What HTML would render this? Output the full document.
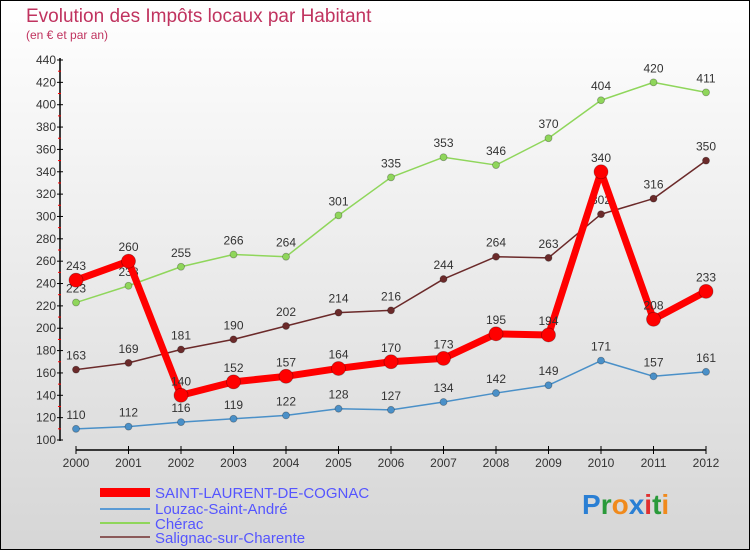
<!DOCTYPE html>
<html><head><meta charset="utf-8"><style>
body{margin:0}
#c{width:750px;height:550px;position:relative;overflow:hidden}
</style></head><body>
<div id="c">
<svg id="s" width="750" height="550" xmlns="http://www.w3.org/2000/svg" font-family="Liberation Sans, sans-serif">
<defs><linearGradient id="bg" x1="0" y1="0" x2="0" y2="1"><stop offset="0" stop-color="#ffffff"/><stop offset="1" stop-color="#d6d6d6"/></linearGradient></defs>
<rect x="0.5" y="0.5" width="749" height="549" fill="url(#bg)" stroke="#000"/>
<text x="26" y="22" font-size="19" fill="#c0335f">Evolution des Impôts locaux par Habitant</text>
<text x="26" y="39" font-size="12" fill="#c0335f">(en € et par an)</text>
<g id="axes"></g><g id="series"></g>
<g>
<rect x="100" y="488" width="50" height="9" fill="#f00"/>
<text x="155" y="498" font-size="15" fill="#5555ff">SAINT-LAURENT-DE-COGNAC</text>
<line x1="100" y1="509" x2="150" y2="509" stroke="#5b9bd5" stroke-width="2"/>
<text x="155" y="514" font-size="15" fill="#5555ff">Louzac-Saint-André</text>
<line x1="100" y1="523" x2="150" y2="523" stroke="#8fd65b" stroke-width="2"/>
<text x="155" y="529" font-size="15" fill="#5555ff">Chérac</text>
<line x1="100" y1="537" x2="150" y2="537" stroke="#8b5a5a" stroke-width="2"/>
<text x="155" y="543" font-size="15" fill="#5555ff">Salignac-sur-Charente</text>
</g>
<text x="582" y="514" font-size="28" font-weight="bold"><tspan fill="#2a7fd4">P</tspan><tspan fill="#2a9a3a">r</tspan><tspan fill="#f08a1c">o</tspan><tspan fill="#2a7fd4">x</tspan><tspan fill="#e03030">i</tspan><tspan fill="#2a9a3a">t</tspan><tspan fill="#f08a1c">i</tspan></text>
</svg></div>
<script>
const years=[2000,2001,2002,2003,2004,2005,2006,2007,2008,2009,2010,2011,2012];
const yTicks=[100,120,140,160,180,200,220,240,260,280,300,320,340,360,380,400,420,440];
const saintLaurent=[243,260,140,152,157,164,170,173,195,194,340,208,233];
const louzac=[110,112,116,119,122,128,127,134,142,149,171,157,161];
const cherac=[223,238,255,266,264,301,335,353,346,370,404,420,411];
const salignac=[163,169,181,190,202,214,216,244,264,263,302,316,350];
const NS="http://www.w3.org/2000/svg";
const xS=i=>76+i*52.5;
const yS=v=>440-(v-100)*380/340;
function mk(t,a,p){const e=document.createElementNS(NS,t);for(const k in a)e.setAttribute(k,a[k]);p.appendChild(e);return e;}
const ax=document.getElementById('axes');
const yl=mk('line',{x1:60,y1:58,x2:60,y2:441,stroke:'#000','stroke-width':1.5},ax);


yTicks.forEach(v=>{
 mk('line',{x1:57,x2:63,y1:yS(v),y2:yS(v),stroke:'#000'},ax);
 if(v<440)mk('line',{x1:58,x2:61,y1:yS(v+10),y2:yS(v+10),stroke:'#f00'},ax);
 const t=mk('text',{x:56,y:yS(v)+4,'text-anchor':'end','font-size':12,fill:'#333'},ax);t.textContent=v;
 
 
});
const xl=mk('line',{x1:xS(0),y1:450,x2:xS(12),y2:450,stroke:'#000','stroke-width':1.5},ax);


years.forEach((y,i)=>{
 mk('line',{x1:xS(i),x2:xS(i),y1:446,y2:454,stroke:'#000'},ax);
 const t=mk('text',{x:xS(i),y:467,'text-anchor':'middle','font-size':12,fill:'#333'},ax);t.textContent=y;
 
 
});
const sg=document.getElementById('series');
function series(d,col,w,r,name){
 const g=mk('g',{},sg);
 
 
 mk('polyline',{points:d.map((v,i)=>xS(i)+','+yS(v)).join(' '),fill:'none',stroke:col,'stroke-width':w,'stroke-linejoin':'round'},g);
 d.forEach((v,i)=>{
  const c=mk('circle',{cx:xS(i),cy:yS(v),r:r,fill:col,stroke:'rgba(0,0,0,0.3)','stroke-width':0.8},g);
  
  
  const t=mk('text',{x:xS(i),y:yS(v)-10,'text-anchor':'middle','font-size':12,fill:'#333'},g);t.textContent=v;
  
  
 });
}
series(louzac,'#4a90c8',1.5,3.5,'series-louzac');
series(cherac,'#8fd65b',1.5,3.5,'series-cherac');
series(salignac,'#6b2a2a',1.5,3.5,'series-salignac');
series(saintLaurent,'#ff0000',7,7,'series-saint-laurent');
</script>
</body></html>
